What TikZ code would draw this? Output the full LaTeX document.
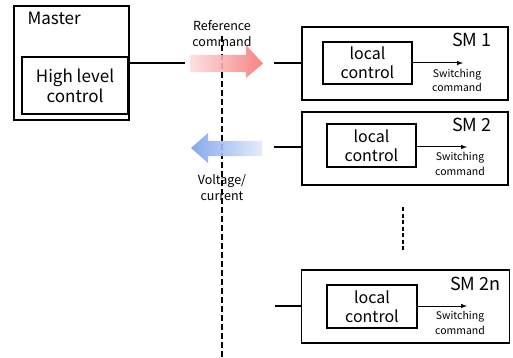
\documentclass[tikz,border=0pt]{standalone}
\usepackage{fontspec}
\setmainfont{Noto Sans CJK KR}
\definecolor{refL}{RGB}{252,222,222}
\definecolor{refR}{RGB}{246,118,118}
\definecolor{measL}{RGB}{122,160,234}
\definecolor{measR}{RGB}{226,233,250}
\begin{document}
\begin{tikzpicture}[x=1pt,y=-1pt,
  box/.style={draw=black,line width=1.4pt,inner sep=0pt},
  wire/.style={draw=black,line width=1.3pt},
  big/.style={font=\fontsize{17}{20}\selectfont,align=center},
  mid/.style={font=\fontsize{16}{19}\selectfont,align=center},
  tag/.style={font=\fontsize{18}{20}\selectfont,anchor=north east},
  small/.style={font=\fontsize{12.5}{16}\selectfont,align=center},
  tiny/.style={font=\fontsize{10.5}{14.5}\selectfont,align=center},
  sig/.style={draw=black,line width=1pt,-latex}]
\useasboundingbox (0,0) rectangle (513,358);

% master unit
\node[box,minimum width=115,minimum height=114] (master) at (71.5,63) {};
\node[big,anchor=north west] (mlabel) at (24,8.5) {Master};
\node[box,minimum width=106,minimum height=57,big] (hlc) at (75,85.5) {High level\\control};
\coordinate (mout) at (185,63);
\draw[wire] (hlc.east |- mout) -- (mout);

% signal labels sit under the separation line
\node[small] (refcmd) at (222,33.5) {Reference\\command};
\node[small] (vc) at (222,188) {Voltage/\\current};

% separation line
\coordinate (sepTop) at (222,36);
\coordinate (sepBot) at (222,358);
\draw[line width=1.4pt,dash pattern=on 6pt off 3pt] (sepTop) -- (sepBot);

% reference command arrow
\shade[left color=refL,right color=refR,opacity=0.9]
  (190,55) -- (246,55) -- (246,45) -- (263,63.5) -- (246,78) -- (246,72) -- (190,72) -- cycle;

% measurement arrow
\shade[left color=measL,right color=measR,opacity=0.9]
  (262,141) -- (208,141) -- (208,133) -- (191,148) -- (208,163) -- (208,156) -- (262,156) -- cycle;

% submodule SM 1
\node[box,minimum width=206,minimum height=73] (sm1) at (405,63.5) {};
\node[tag] (sm1l) at (495,30) {SM 1};
\node[box,minimum width=89,minimum height=42,mid] (lc1) at (367.5,63) {local\\control};
\coordinate (in1) at (274,63);
\coordinate (sw1) at (463,63);
\draw[wire] (in1) -- (sm1.west |- in1);
\draw[sig] (lc1.east) -- (sw1);
\node[tiny] (swc1) at (457,80.5) {Switching\\command};

% submodule SM 2
\node[box,minimum width=206,minimum height=73] (sm2) at (405,148.5) {};
\node[tag] (sm2l) at (495,115) {SM 2};
\node[box,minimum width=89,minimum height=43,mid] (lc2) at (371.5,145.5) {local\\control};
\coordinate (in2) at (274,147);
\coordinate (sw2) at (467,147);
\draw[wire] (in2) -- (sm2.west |- in2);
\draw[sig] (lc2.east |- sw2) -- (sw2);
\node[tiny] (swc2) at (460,164) {Switching\\command};

% ellipsis between modules
\coordinate (dotTop) at (403,207);
\coordinate (dotBot) at (403,252);
\draw[line width=1.4pt,dash pattern=on 4pt off 2.5pt] (dotTop) -- (dotBot);

% submodule SM 2n
\node[box,minimum width=208,minimum height=73] (smn) at (405.5,306.5) {};
\node[tag] (smnl) at (504,274) {SM 2n};
\node[box,minimum width=90,minimum height=43,mid] (lcn) at (372,306.5) {local\\control};
\coordinate (inn) at (275,306);
\coordinate (swn) at (467,306);
\draw[wire] (inn) -- (smn.west |- inn);
\draw[sig] (lcn.east |- swn) -- (swn);
\node[tiny] (swcn) at (460,323) {Switching\\command};
\end{tikzpicture}
\end{document}
